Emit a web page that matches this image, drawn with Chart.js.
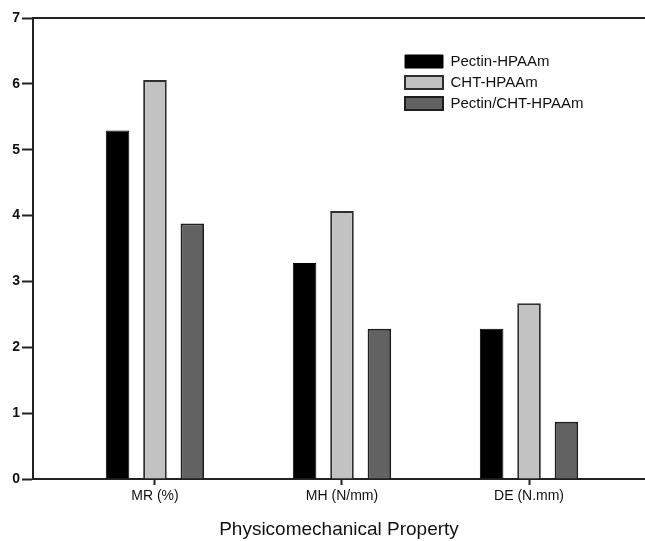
<!DOCTYPE html>
<html>
<head>
<meta charset="utf-8">
<title>Physicomechanical Property</title>
<script src="https://cdn.jsdelivr.net/npm/chart.js@4.4.0/dist/chart.umd.min.js"></script>
<style>
    html, body { margin: 0; padding: 0; background: #fff; }
    #wrap { width: 645px; height: 541px; position: relative; }
</style>
</head>
<body>
<div id="wrap"><canvas id="propChart"></canvas></div>
<script>
// Chart data
const categories = ['MR (%)', 'MH (N/mm)', 'DE (N.mm)'];
const pectinValues = [5.29, 3.28, 2.28];
const chtValues = [6.06, 4.07, 2.67];
const blendValues = [3.88, 2.28, 0.87];
const yTicks = [0, 1, 2, 3, 4, 5, 6, 7];

const FONT = '"Liberation Sans", Arial, sans-serif';

// place points at category index on a linear x axis
function toPoints(values) {
    return values.map((v, i) => ({ x: i, y: v }));
}

// move the legend into the upper right of the plot
const legendMover = {
    id: 'legendMover',
    afterLayout(chart) {
        const lg = chart.legend;
        lg.left = 399;
        lg.top = 48;
    }
};

// top frame line
const topFrame = {
    id: 'topFrame',
    afterDraw(chart) {
        const { ctx, chartArea } = chart;
        ctx.save();
        ctx.strokeStyle = '#222';
        ctx.lineWidth = 2;
        ctx.beginPath();
        ctx.moveTo(chartArea.left, chartArea.top);
        ctx.lineTo(chart.width, chartArea.top);
        ctx.stroke();
        ctx.restore();
    }
};

const ctx = document.getElementById('propChart').getContext('2d');

new Chart(ctx, {
    type: 'bar',
    data: {
        datasets: [
            {
                label: 'Pectin-HPAAm',
                data: toPoints(pectinValues),
                backgroundColor: '#000000',
                borderColor: '#000000',
                borderWidth: 1
            },
            {
                label: 'CHT-HPAAm',
                data: toPoints(chtValues),
                backgroundColor: '#c2c2c2',
                borderColor: '#2e2e2e',
                borderWidth: 2
            },
            {
                label: 'Pectin/CHT-HPAAm',
                data: toPoints(blendValues),
                backgroundColor: '#626262',
                borderColor: '#1e1e1e',
                borderWidth: 2
            }
        ]
    },
    options: {
        responsive: true,
        maintainAspectRatio: false,
        animation: false,
        categoryPercentage: 0.6,
        barPercentage: 0.63,
        layout: { padding: { top: 18, right: 0, left: 0, bottom: 0 } },
        scales: {
            x: {
                type: 'linear',
                offset: false,
                min: -0.652,
                max: 2.62,
                afterBuildTicks: (scale) => {
                    scale.ticks = categories.map((c, i) => ({ value: i }));
                },
                afterFit: (scale) => { scale.height = 62; },
                ticks: {
                    callback: (value) => categories[value],
                    color: '#111',
                    font: { family: FONT, size: 14 },
                    padding: 3,
                    maxRotation: 0
                },
                grid: {
                    display: true,
                    offset: false,
                    drawOnChartArea: false,
                    tickLength: 6,
                    tickWidth: 2,
                    color: '#222'
                },
                border: { display: true, color: '#222', width: 2 },
                title: {
                    display: true,
                    text: 'Physicomechanical Property',
                    color: '#111',
                    font: { family: FONT, size: 19 },
                    padding: { top: 4, bottom: 0 }
                }
            },
            y: {
                min: 0,
                max: 7,
                afterBuildTicks: (scale) => {
                    scale.ticks = yTicks.map(v => ({ value: v }));
                },
                afterFit: (scale) => { scale.width = 33; },
                ticks: {
                    color: '#111',
                    font: { family: FONT, size: 14, weight: 'bold' },
                    padding: 2
                },
                grid: {
                    display: true,
                    drawOnChartArea: false,
                    tickLength: 11,
                    tickWidth: 2,
                    color: '#222'
                },
                border: { display: true, color: '#222', width: 2 }
            }
        },
        plugins: {
            legend: {
                position: 'chartArea',
                align: 'start',
                labels: {
                    boxWidth: 38,
                    boxHeight: 13,
                    padding: 6,
                    color: '#111',
                    font: { family: FONT, size: 15 }
                }
            },
            title: { display: false },
            tooltip: { enabled: false }
        }
    },
    plugins: [legendMover, topFrame]
});
</script>
</body>
</html>
